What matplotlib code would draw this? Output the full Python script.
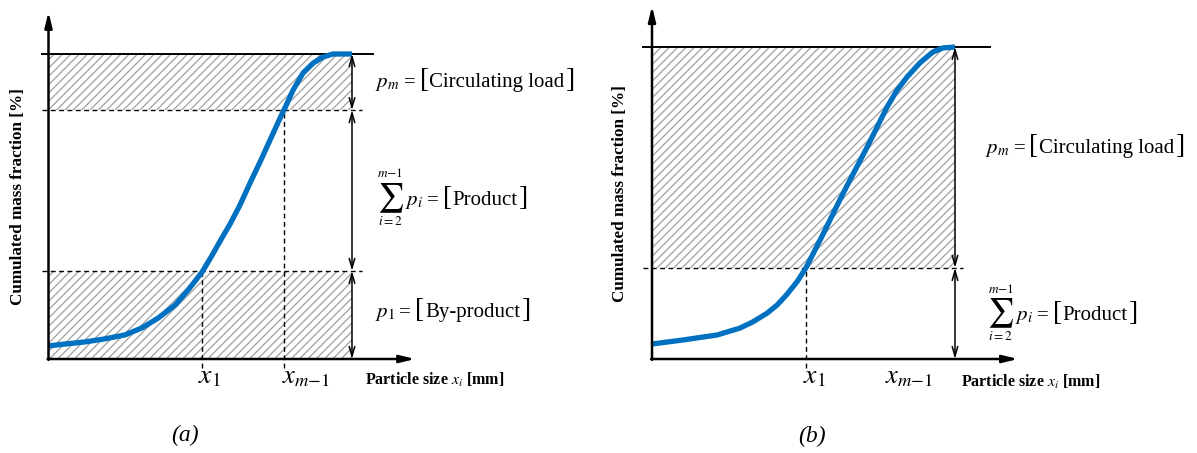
import numpy as np
import matplotlib.pyplot as plt

plt.rcParams['font.family'] = ['Liberation Serif', 'DejaVu Serif']
plt.rcParams['mathtext.fontset'] = 'stix'
plt.rcParams['hatch.linewidth'] = 0.9

W, H = 1197, 453

# cumulative curves (x: particle size, y: % passing)
curve_a_x = [0, 5.4, 12.0, 18.6, 25.2, 30.8, 36.1, 41.7, 46.0, 50.6, 53.9, 56.5, 59.8,
             63.1, 66.4, 69.7, 73.0, 76.3, 77.9, 80.6, 83.9, 87.2, 90.4, 93.7, 100]
curve_a_y = [4.3, 4.9, 5.6, 6.6, 7.9, 10.2, 13.4, 17.7, 22.6, 28.5, 34.0, 38.6, 44.2,
             50.5, 57.7, 64.6, 71.8, 79.0, 82.3, 88.2, 93.8, 97.0, 99.0, 100, 100]
curve_b_x = [0, 10.2, 21.5, 29.0, 33.3, 38.0, 41.3, 44.6, 47.9, 50.8, 53.1, 56.4, 62.0,
             64.4, 71.0, 77.6, 80.9, 84.2, 88.4, 92.7, 96.0, 100]
curve_b_y = [4.8, 6.1, 7.7, 9.9, 11.9, 14.7, 17.3, 20.8, 24.8, 29.2, 33.6, 39.9, 51.0,
             55.6, 67.9, 80.8, 86.2, 90.4, 94.9, 98.4, 99.7, 100]

# class boundaries
levels_a = [28.9, 81.6]     # top of p1, bottom of pm
xcut_a = [50.6, 77.6]       # x1, x_{m-1}
levels_b = [29.2]
xcut_b = [50.8]
xmax = 100
ytop = 100

lbl_y = 'Cumulated mass fraction [%]'
lbl_x = r'Particle size $\mathit{x_i}$ [mm]'
BLUE = '#0070c0'

fig = plt.figure(figsize=(W / 100, H / 100), dpi=100)


def make_ax(ox, oy, sx, sy, xlim=(-6, 125), ylim=(-30, 116)):
    # place an axes so that data (0,0) lands on pixel (ox, oy)
    l = ox + xlim[0] * sx
    r = ox + xlim[1] * sx
    b = oy - ylim[0] * sy
    t = oy - ylim[1] * sy
    ax = fig.add_axes([l / W, (H - b) / H, (r - l) / W, (b - t) / H])
    ax.set_xlim(*xlim)
    ax.set_ylim(*ylim)
    ax.axis('off')
    return ax


def hatch(ax, lo, hi):
    ax.fill_between([0, xmax], lo, hi, facecolor='none', edgecolor='#a0a0a0',
                    hatch='////', linewidth=0)


def axes_arrows(ax, xtip, ytip):
    st = dict(arrowstyle='-|>,head_length=0.9,head_width=0.22', lw=1.8,
              color='k', shrinkA=0, shrinkB=0)
    ax.annotate('', xy=(xtip, 0), xytext=(-0.3, 0), arrowprops=st)
    ax.annotate('', xy=(0, ytip), xytext=(0, -0.3), arrowprops=st)


def dim(ax, x, y0, y1):
    ax.annotate('', xy=(x, y1), xytext=(x, y0),
                arrowprops=dict(arrowstyle='<->,head_length=0.7,head_width=0.2',
                                lw=1.1, color='k', shrinkA=0, shrinkB=0))


def seq(ax, x, y, parts):
    # lay text pieces one after another on a common baseline
    s, size, _ = parts[0]
    prev = ax.text(x, y, s, fontsize=size, ha='left', va='baseline')
    out = [prev]
    for s, size, gap in parts[1:]:
        prev = ax.annotate(s, xy=(1, y), xycoords=(prev, 'data'), xytext=(gap, 0),
                           textcoords='offset points', fontsize=size,
                           ha='left', va='baseline')
        out.append(prev)
    return out


def bracket(name):
    return [('=', 15, 3), ('[', 20, 3), (name, 15, 0.5), (']', 20, 0.5)]


def sum_label(ax, x, y, name):
    parts = seq(ax, x, y, [(r'$\sum$', 21, 0), (r'$p_i$', 15, 0.5)] + bracket(name))
    sg = parts[0]
    ax.annotate(r'$m{-}1$', xy=(0.5, 1), xycoords=sg, xytext=(0, 0.5),
                textcoords='offset points', fontsize=9.5, ha='center', va='bottom')
    ax.annotate(r'$i{=}2$', xy=(0.5, 0), xycoords=sg, xytext=(0, -0.5),
                textcoords='offset points', fontsize=9.5, ha='center', va='top')


dash = dict(color='k', lw=1.0, ls=(0, (3.5, 2.5)))

# ---------------- (a) ----------------
ax = make_ax(48.5, 359, 3.035, 3.05)
hatch(ax, levels_a[1], ytop)
hatch(ax, 0, levels_a[0])
ax.plot([-2.1, 106.9], [ytop, ytop], color='k', lw=1.4)
for lv in levels_a:
    ax.plot([-2.1, 103.3], [lv, lv], **dash)
ax.plot([xcut_a[0]] * 2, [-3, levels_a[0]], **dash)
ax.plot([xcut_a[1]] * 2, [-3, levels_a[1]], **dash)
ax.plot(curve_a_x, curve_a_y, color=BLUE, lw=3.8, solid_capstyle='butt',
        solid_joinstyle='round')
axes_arrows(ax, 120.8, 113.8)
dim(ax, xmax, levels_a[1], ytop)
dim(ax, xmax, levels_a[0], levels_a[1])
dim(ax, xmax, 0, levels_a[0])
ax.text(49.3, -7.9, r'$x_1$', fontsize=20, ha='left', va='baseline')
ax.text(76.9, -7.9, r'$x_{m{-}1}$', fontsize=19, ha='left', va='baseline')
ax.text(104.3, -8.5, lbl_x, fontsize=11.5, fontweight='bold', ha='left', va='baseline')
ax.text(-9.9, 53.1, lbl_y, fontsize=12.3, fontweight='bold', rotation=90,
        ha='center', va='center')
seq(ax, 107.6, 89.3, [(r'$p_m$', 15, 0)] + bracket('Circulating load'))
sum_label(ax, 108.2, 50.5, 'Product')
seq(ax, 107.6, 13.8, [(r'$p_1$', 15, 0)] + bracket('By-product'))
ax.text(45, -25.2, '(a)', fontsize=17, style='italic', ha='center', va='center')

# ---------------- (b) ----------------
ax = make_ax(652, 359, 3.03, 3.12)
hatch(ax, levels_b[0], ytop)
ax.plot([-3, 111.5], [ytop, ytop], color='k', lw=1.4)
ax.plot([-3, 102.6], [levels_b[0]] * 2, **dash)
ax.plot([xcut_b[0]] * 2, [-3, levels_b[0]], **dash)
ax.plot(curve_b_x, curve_b_y, color=BLUE, lw=3.8, solid_capstyle='butt',
        solid_joinstyle='round')
axes_arrows(ax, 120.8, 113.1)
dim(ax, xmax, levels_b[0], ytop)
dim(ax, xmax, 0, levels_b[0])
ax.text(49.8, -7.7, r'$x_1$', fontsize=20, ha='left', va='baseline')
ax.text(76.9, -7.7, r'$x_{m{-}1}$', fontsize=19, ha='left', va='baseline')
ax.text(102.0, -9.0, lbl_x, fontsize=11.5, fontweight='bold', ha='left', va='baseline')
ax.text(-10.6, 52.9, lbl_y, fontsize=12.3, fontweight='bold', rotation=90,
        ha='center', va='center')
seq(ax, 109.9, 66.0, [(r'$p_m$', 15, 0)] + bracket('Circulating load'))
sum_label(ax, 110.6, 12.5, 'Product')
ax.text(52.8, -24.7, '(b)', fontsize=17, style='italic', ha='center', va='center')

fig.savefig('out.png', dpi=100)
